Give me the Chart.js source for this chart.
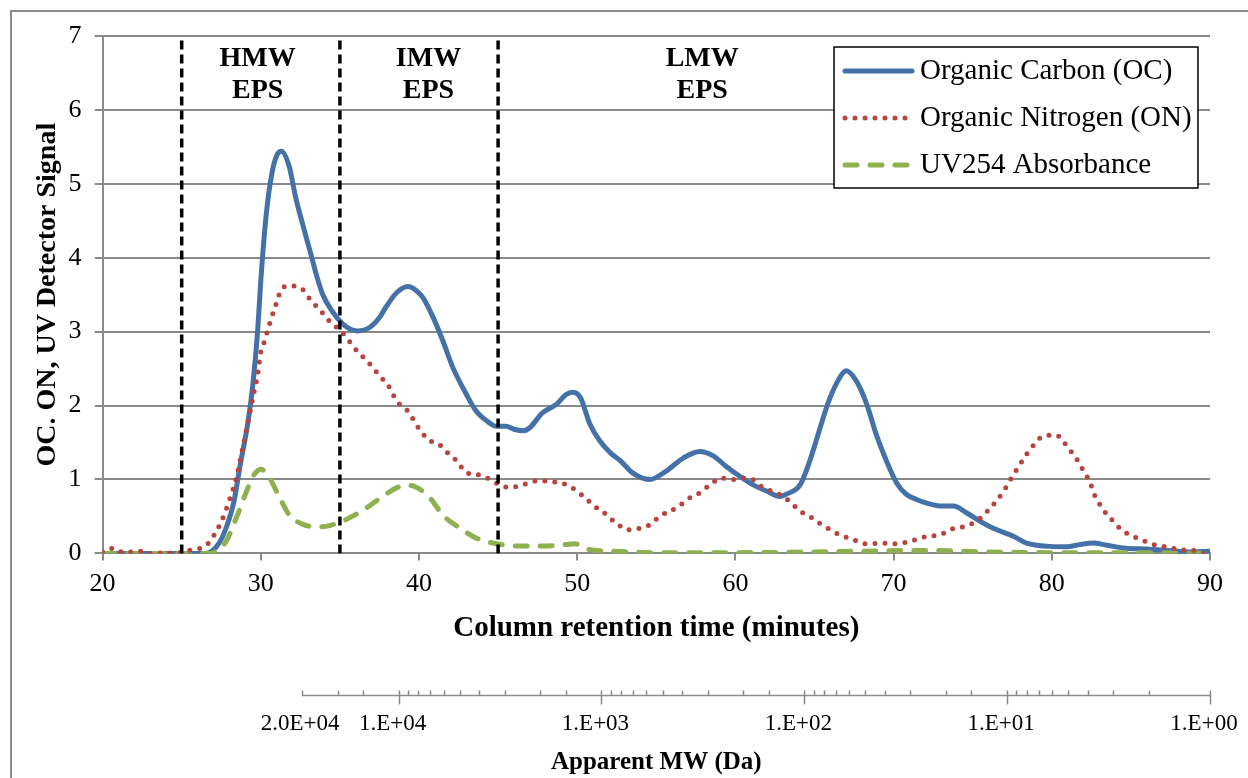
<!DOCTYPE html>
<html>
<head>
<meta charset="utf-8">
<script src="https://cdn.jsdelivr.net/npm/chart.js@4.4.1/dist/chart.umd.min.js"></script>
<style>
html, body { margin: 0; padding: 0; background: #fff; }
body { width: 1248px; height: 778px; overflow: hidden; position: relative; }
#frame { position: absolute; left: 10px; top: 10px; width: 1400px; height: 900px;
         border-left: 2px solid #8c8c8c; border-top: 2px solid #8c8c8c; }
#sec_chart { position: absolute; left: 0; top: 0; }
</style>
</head>
<body>
<div id="frame"></div>
<canvas id="sec_chart" width="1248" height="778"></canvas>
<script>
// retention time (minutes) vs detector signal
const oc_time = [20, 23, 26.5, 26.9, 27.4, 27.8, 28.3, 28.7, 29.2, 29.5, 29.8, 30.0, 30.35, 30.7, 31.0, 31.3, 31.8, 32.2, 32.7, 33.1, 33.5, 33.9, 34.5, 35.1, 35.6, 36.1, 36.9, 37.5, 37.9, 38.6, 39.3, 39.8, 40.25, 40.9, 41.5, 42.15, 43.0, 43.6, 44.3, 44.9, 45.5, 46.0, 46.6, 47.0, 47.8, 48.7, 49.3, 49.7, 50.2, 50.8, 51.4, 52.1, 52.7, 53.5, 54.6, 55.6, 56.7, 57.75, 58.6, 59.4, 60.3, 61.1, 62.0, 62.8, 63.2, 64.1, 64.7, 65.3, 65.9, 66.6, 67.0, 67.65, 68.3, 68.9, 69.55, 70.2, 70.8, 71.45, 72.1, 73.1, 73.8, 74.6, 75.5, 76.3, 77.6, 78.4, 79.9, 80.9, 81.8, 82.6, 83.5, 84.7, 86.0, 87.3, 88.5, 90]
const oc_signal = [0, 0, 0, 0.03, 0.15, 0.34, 0.7, 1.2, 1.79, 2.29, 3.01, 3.69, 4.6, 5.14, 5.38, 5.44, 5.23, 4.82, 4.41, 4.1, 3.78, 3.51, 3.28, 3.12, 3.04, 3.01, 3.06, 3.19, 3.33, 3.53, 3.61, 3.56, 3.46, 3.19, 2.88, 2.51, 2.15, 1.93, 1.79, 1.72, 1.72, 1.68, 1.66, 1.70, 1.90, 2.02, 2.15, 2.18, 2.11, 1.75, 1.53, 1.36, 1.26, 1.09, 1.0, 1.11, 1.29, 1.38, 1.32, 1.18, 1.04, 0.93, 0.84, 0.77, 0.80, 0.93, 1.25, 1.66, 2.06, 2.38, 2.47, 2.33, 2.02, 1.61, 1.25, 0.95, 0.80, 0.73, 0.68, 0.64, 0.64, 0.55, 0.43, 0.34, 0.23, 0.14, 0.095, 0.09, 0.12, 0.14, 0.11, 0.07, 0.06, 0.04, 0.02, 0.03]

const on_time = [20, 20.5, 21, 21.5, 22, 22.5, 23, 24, 24.6, 25.2, 25.7, 26.2, 26.7, 27.0, 27.5, 28.0, 28.45, 28.9, 29.2, 29.5, 29.8, 30.0, 30.25, 30.45, 30.9, 31.4, 32.0, 32.7, 33.1, 33.8, 34.35, 35.1, 36.0, 36.9, 37.6, 38.0, 38.6, 39.4, 39.8, 40.6, 41.3, 41.7, 42.4, 43.0, 43.6, 44.3, 44.9, 45.7, 46.6, 47.4, 48.5, 49.5, 50.4, 51.2, 51.6, 52.1, 52.5, 53.1, 54.0, 54.6, 55.2, 56.3, 57.1, 57.75, 58.4, 59.1, 59.85, 60.5, 61.1, 61.75, 62.6, 63.4, 64.1, 64.7, 65.3, 66.0, 66.6, 67.4, 68.3, 69.3, 70.0, 70.8, 71.45, 72.1, 72.9, 73.8, 74.6, 75.5, 76.0, 76.5, 77.0, 77.45, 77.8, 78.4, 78.8, 79.25, 79.8, 80.3, 80.7, 81.35, 81.8, 82.1, 82.4, 82.6, 82.9, 83.25, 83.9, 84.4, 84.95, 85.6, 86.4, 87.3, 88.1, 88.95, 89.6, 90]
const on_signal = [0.02, 0.07, 0.02, 0.03, 0.01, 0.03, 0.0, 0.01, 0.0, 0.03, 0.05, 0.07, 0.14, 0.23, 0.43, 0.71, 1.02, 1.47, 1.79, 2.11, 2.42, 2.72, 2.88, 3.03, 3.33, 3.6, 3.62, 3.56, 3.44, 3.28, 3.14, 3.0, 2.76, 2.56, 2.38, 2.29, 2.06, 1.90, 1.75, 1.54, 1.47, 1.38, 1.25, 1.09, 1.07, 1.02, 0.95, 0.89, 0.93, 0.98, 0.97, 0.91, 0.77, 0.62, 0.57, 0.47, 0.41, 0.32, 0.34, 0.39, 0.50, 0.62, 0.75, 0.82, 0.93, 1.02, 1.0, 1.02, 1.0, 0.89, 0.82, 0.71, 0.57, 0.50, 0.41, 0.32, 0.25, 0.19, 0.13, 0.14, 0.13, 0.15, 0.19, 0.23, 0.25, 0.34, 0.37, 0.48, 0.59, 0.71, 0.86, 1.02, 1.14, 1.34, 1.45, 1.56, 1.60, 1.60, 1.52, 1.34, 1.20, 1.07, 0.98, 0.84, 0.71, 0.59, 0.43, 0.32, 0.25, 0.19, 0.12, 0.086, 0.05, 0.04, 0.0, 0.02]

const uv_time = [20, 24, 26.8, 27.3, 27.8, 28.45, 29.1, 29.5, 30.0, 30.55, 31.2, 31.8, 32.7, 33.7, 34.4, 35.4, 36.5, 37.7, 38.6, 39.3, 39.8, 40.7, 41.5, 42.6, 43.6, 44.9, 46.2, 47.8, 49.3, 49.85, 50.6, 52.3, 55, 60, 65, 68, 72, 76, 80, 85, 90]
const uv_signal = [0, 0, 0, 0.05, 0.16, 0.48, 0.84, 1.04, 1.14, 1.02, 0.75, 0.52, 0.39, 0.36, 0.38, 0.46, 0.59, 0.77, 0.89, 0.92, 0.90, 0.75, 0.52, 0.34, 0.21, 0.13, 0.10, 0.10, 0.12, 0.13, 0.06, 0.03, 0.01, 0.01, 0.02, 0.03, 0.04, 0.02, 0.01, 0.01, 0.0]

// fraction boundaries and their names
const boundary_times = [25, 35, 45]
const region_names   = [['HMW', 'EPS'], ['IMW', 'EPS'], ['LMW', 'EPS']]
const region_centers = [29.8, 40.6, 57.9]

// apparent molecular weight axis (Da)
const mw_decades   = [1e4, 1e3, 1e2, 1e1, 1]
const mw_extra     = 2e4
const mw_axis_from = 3e4

const FONT = "'Liberation Serif', 'Times New Roman', serif"
const GRID = '#8a8a8a'

Chart.defaults.font.family = FONT
Chart.defaults.color = '#000'

function to_points(xs, ys){
  return xs.map((x, i) => ({x: x, y: ys[i]}))
}

const boundary_sets = boundary_times.map(t => ({
  label: 'boundary',
  data: [{x: t, y: 0}, {x: t, y: 7}],
  borderColor: '#000',
  borderWidth: 3.5,
  borderDash: [9, 5],
  pointRadius: 0,
  order: 0,
  is_boundary: true
}))

// region labels, legend box and the MW axis line / tick marks
const extras_plugin = {
  id: 'extras',
  afterDraw(chart){
    const ctx = chart.ctx
    const xs = chart.scales.x
    const area = chart.chartArea

    ctx.save()
    ctx.fillStyle = '#000'
    ctx.font = 'bold 28px ' + FONT
    ctx.textAlign = 'center'
    ctx.textBaseline = 'middle'
    region_names.forEach((lines, i) => {
      const px = xs.getPixelForValue(region_centers[i])
      lines.forEach((txt, j) => ctx.fillText(txt, px, area.top + 23 + j * 32))
    })

    // legend
    const bw = 364, bh = 141
    const bx = area.right - 12 - bw
    const by = area.top + 11
    ctx.fillStyle = '#fff'
    ctx.fillRect(bx, by, bw, bh)
    ctx.strokeStyle = '#000'
    ctx.lineWidth = 1.5
    ctx.strokeRect(bx, by, bw, bh)
    const curves = chart.data.datasets.filter(d => !d.is_boundary)
    curves.forEach((ds, i) => {
      const ly = by + 24 + i * 47
      ctx.beginPath()
      ctx.setLineDash(ds.borderDash || [])
      ctx.lineCap = 'round'
      ctx.strokeStyle = ds.borderColor
      ctx.lineWidth = ds.borderWidth
      ctx.moveTo(bx + 11, ly)
      ctx.lineTo(bx + 78, ly)
      ctx.stroke()
      ctx.setLineDash([])
      ctx.fillStyle = '#000'
      ctx.font = '29px ' + FONT
      ctx.textAlign = 'left'
      ctx.fillText(ds.label, bx + 86, ly)
    })

    // MW axis: line, small tick marks above it, decade ticks through it
    const mw = chart.scales.mw
    const ly = mw.top + 5
    ctx.strokeStyle = GRID
    ctx.lineWidth = 1.5
    ctx.lineCap = 'butt'
    ctx.beginPath()
    ctx.moveTo(mw.getPixelForValue(mw_axis_from), ly)
    ctx.lineTo(mw.getPixelForValue(1), ly)
    mw.ticks.forEach(t => {
      const px = Math.round(mw.getPixelForValue(t.value)) + 0.5
      ctx.moveTo(px, ly - 5)
      ctx.lineTo(px, ly)
    })
    mw_decades.forEach(v => {
      const px = Math.round(mw.getPixelForValue(v)) + 0.5
      ctx.moveTo(px, ly)
      ctx.lineTo(px, ly + 9)
    })
    ctx.stroke()
    ctx.fillStyle = '#000'
    ctx.font = '23px ' + FONT
    ctx.textAlign = 'right'
    ctx.fillText('2.0E+04', mw.getPixelForValue(mw_extra) + 2, mw.top + 20 + 13.8)
    ctx.restore()
  }
}

const ctx = document.getElementById('sec_chart').getContext('2d')

const chart = new Chart(ctx, {
  type: 'line',
  data: {
    datasets: [
      ...boundary_sets,
      {
        label: 'Organic Carbon (OC)',
        data: to_points(oc_time, oc_signal),
        borderColor: '#4472A8',
        borderWidth: 5,
        pointRadius: 0,
        cubicInterpolationMode: 'monotone',
        order: 3
      },
      {
        label: 'Organic Nitrogen (ON)',
        data: to_points(on_time, on_signal),
        borderColor: '#B8443F',
        borderWidth: 5,
        borderDash: [0, 10],
        borderCapStyle: 'round',
        pointRadius: 0,
        cubicInterpolationMode: 'monotone',
        order: 1
      },
      {
        label: 'UV254 Absorbance',
        data: to_points(uv_time, uv_signal),
        borderColor: '#8EB04F',
        borderWidth: 5,
        borderDash: [12, 13],
        borderCapStyle: 'round',
        pointRadius: 0,
        cubicInterpolationMode: 'monotone',
        order: 2
      }
    ]
  },
  options: {
    responsive: false,
    animation: false,
    layout: {padding: {left: 20, top: 36, right: 38, bottom: 0}},
    plugins: {
      legend: {display: false},
      tooltip: {enabled: false}
    },
    scales: {
      x: {
        type: 'linear',
        position: 'bottom',
        weight: 0,
        min: 20,
        max: 90,
        ticks: {stepSize: 10, font: {size: 26}, padding: 8, maxRotation: 0},
        grid: {drawOnChartArea: false, color: GRID, lineWidth: 2, tickLength: 7},
        border: {color: GRID, width: 2},
        title: {
          display: true,
          text: 'Column retention time (minutes)',
          font: {size: 29, weight: 'bold'},
          padding: {top: 4, bottom: 44}
        }
      },
      mw: {
        type: 'logarithmic',
        axis: 'x',
        position: 'bottom',
        weight: 1,
        reverse: true,
        min: 1,
        max: 2.88e5,
        afterBuildTicks: (axis) => {
          axis.ticks = axis.ticks.filter(t => t.value <= mw_axis_from * 1.001)
        },
        ticks: {
          autoSkip: false,
          maxRotation: 0,
          minRotation: 0,
          padding: 0,
          labelOffset: -6,
          font: {size: 23},
          callback: (value) => {
            const e = Math.log10(value)
            if (Math.abs(e - Math.round(e)) < 1e-9){
              return '1.E+' + String(Math.round(e)).padStart(2, '0')
            }
            return ''
          }
        },
        grid: {display: false, drawTicks: true, tickLength: 20},
        border: {display: false},
        title: {
          display: true,
          text: 'Apparent MW (Da)',
          font: {size: 25, weight: 'bold'},
          padding: {top: 10, bottom: 0}
        }
      },
      y: {
        min: 0,
        max: 7,
        ticks: {stepSize: 1, font: {size: 26}, padding: 13},
        grid: {color: GRID, lineWidth: 2, tickLength: 8},
        border: {color: GRID, width: 2},
        title: {
          display: true,
          text: 'OC. ON, UV Detector Signal',
          font: {size: 28, weight: 'bold'},
          padding: {top: 11, bottom: -9}
        }
      }
    }
  },
  plugins: [extras_plugin]
})
</script>
</body>
</html>
